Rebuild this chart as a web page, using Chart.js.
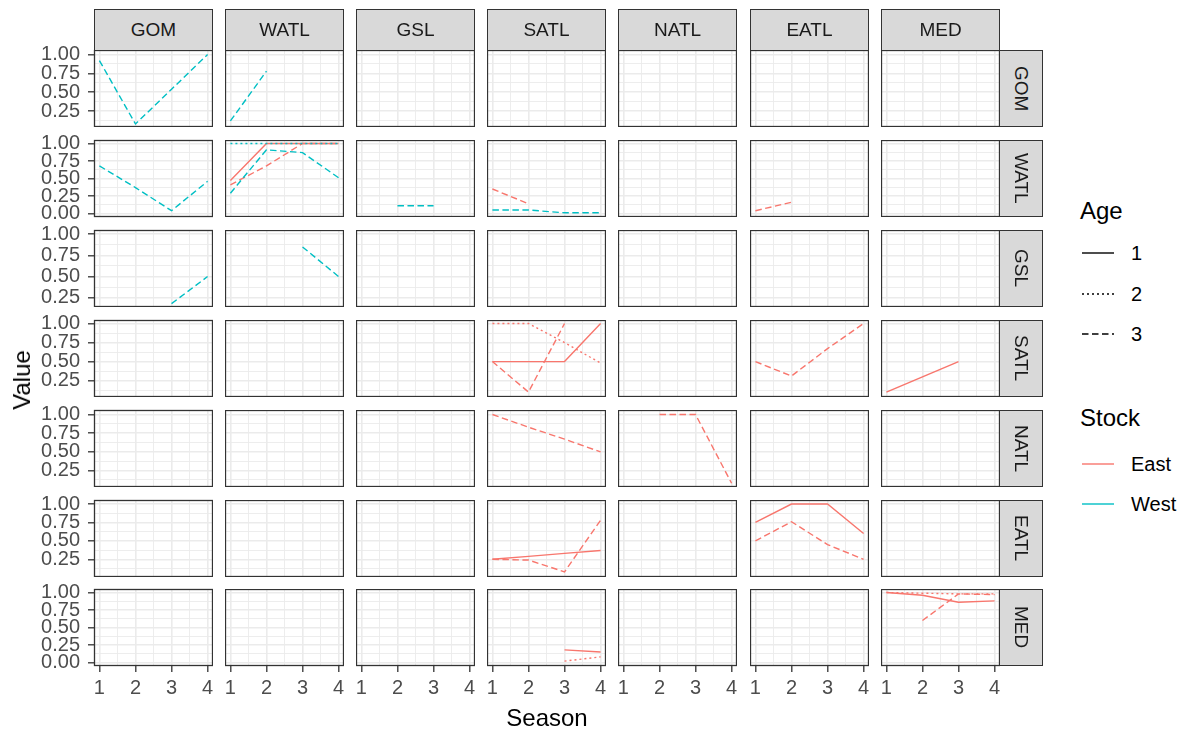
<!DOCTYPE html>
<html><head><meta charset="utf-8">
<script src="https://cdn.jsdelivr.net/npm/chart.js@4.4.1/dist/chart.umd.min.js"></script>
<style>
html,body{margin:0;padding:0;background:#fff;}
body{width:1191px;height:731px;overflow:hidden;position:relative;font-family:"Liberation Sans",Arial,sans-serif;}
canvas{position:absolute;display:block;}
.strip{position:absolute;background:#D9D9D9;border:1.3px solid #333;box-sizing:border-box;color:#1A1A1A;font-size:19px;display:flex;align-items:center;justify-content:center;}
.strip.r span{writing-mode:vertical-rl;}
.txt{position:absolute;white-space:nowrap;color:#000;}
</style></head><body>
<script>
// ---------- categories ----------
const areas = ['GOM','WATL','GSL','SATL','NATL','EATL','MED'];
const seasons = [1, 2, 3, 4];
const stocks = ['East', 'West'];
const ages = [1, 2, 3];
const xTickLabels = ['1', '2', '3', '4'];

// ---------- y-axis breaks (per facet row) ----------
const yBreaks_GOM  = [0.25, 0.50, 0.75, 1.00];
const yBreaks_WATL = [0.00, 0.25, 0.50, 0.75, 1.00];
const yBreaks_GSL  = [0.25, 0.50, 0.75, 1.00];
const yBreaks_SATL = [0.25, 0.50, 0.75, 1.00];
const yBreaks_NATL = [0.25, 0.50, 0.75, 1.00];
const yBreaks_EATL = [0.25, 0.50, 0.75, 1.00];
const yBreaks_MED  = [0.00, 0.25, 0.50, 0.75, 1.00];
const yMinorBreaks = [0.125, 0.375, 0.625, 0.875];

// ---------- series values (season 1..4; null = no value) ----------
// naming: <row area>_<column area>_<Stock>_<Age>
const GOM_GOM_West_3   = [0.92, 0.08, 0.54, 1.00];
const GOM_WATL_West_3  = [0.12, 0.78, null, null];
const WATL_GOM_West_3  = [0.68, 0.37, 0.04, 0.46];
const WATL_WATL_West_2 = [1.00, 1.00, 1.00, 1.00];
const WATL_WATL_West_3 = [0.29, 0.91, 0.87, 0.51];
const WATL_WATL_East_1 = [0.47, 1.00, 1.00, 1.00];
const WATL_WATL_East_3 = [0.41, 0.68, 1.00, 1.00];
const WATL_GSL_West_3  = [null, 0.11, 0.11, null];
const WATL_SATL_East_3 = [0.35, 0.14, null, null];
const WATL_SATL_West_3 = [0.05, 0.05, 0.01, 0.01];
const WATL_EATL_East_3 = [0.04, 0.16, null, null];
const GSL_GOM_West_3   = [null, null, 0.18, 0.50];
const GSL_WATL_West_3  = [null, null, 0.85, 0.50];
const SATL_SATL_East_1 = [0.50, 0.50, 0.50, 1.00];
const SATL_SATL_East_2 = [1.00, 1.00, 0.75, 0.48];
const SATL_SATL_East_3 = [0.50, 0.10, 1.00, null];
const SATL_EATL_East_3 = [0.50, 0.31, 0.67, 1.00];
const SATL_MED_East_1  = [0.10, 0.30, 0.50, null];
const NATL_SATL_East_3 = [1.00, 0.83, 0.67, 0.50];
const NATL_NATL_East_3 = [null, 1.00, 1.00, 0.08];
const EATL_SATL_East_1 = [0.25, 0.29, 0.33, 0.37];
const EATL_SATL_East_3 = [0.25, 0.24, 0.08, 0.78];
const EATL_EATL_East_1 = [0.75, 1.00, 1.00, 0.60];
const EATL_EATL_East_3 = [0.50, 0.76, 0.45, 0.25];
const MED_SATL_East_1  = [null, null, 0.18, 0.15];
const MED_SATL_East_2  = [null, null, 0.02, 0.08];
const MED_MED_East_1   = [1.00, 0.96, 0.86, 0.88];
const MED_MED_East_2   = [1.00, 0.99, 0.98, 0.98];
const MED_MED_East_3   = [null, 0.60, 0.98, 0.97];

const seriesList = [
  ['GOM','GOM','West',3, GOM_GOM_West_3],
  ['GOM','WATL','West',3, GOM_WATL_West_3],
  ['WATL','GOM','West',3, WATL_GOM_West_3],
  ['WATL','WATL','West',2, WATL_WATL_West_2],
  ['WATL','WATL','West',3, WATL_WATL_West_3],
  ['WATL','WATL','East',3, WATL_WATL_East_3],
  ['WATL','WATL','East',1, WATL_WATL_East_1],
  ['WATL','GSL','West',3, WATL_GSL_West_3],
  ['WATL','SATL','East',3, WATL_SATL_East_3],
  ['WATL','SATL','West',3, WATL_SATL_West_3],
  ['WATL','EATL','East',3, WATL_EATL_East_3],
  ['GSL','GOM','West',3, GSL_GOM_West_3],
  ['GSL','WATL','West',3, GSL_WATL_West_3],
  ['SATL','SATL','East',1, SATL_SATL_East_1],
  ['SATL','SATL','East',2, SATL_SATL_East_2],
  ['SATL','SATL','East',3, SATL_SATL_East_3],
  ['SATL','EATL','East',3, SATL_EATL_East_3],
  ['SATL','MED','East',1, SATL_MED_East_1],
  ['NATL','SATL','East',3, NATL_SATL_East_3],
  ['NATL','NATL','East',3, NATL_NATL_East_3],
  ['EATL','SATL','East',1, EATL_SATL_East_1],
  ['EATL','SATL','East',3, EATL_SATL_East_3],
  ['EATL','EATL','East',1, EATL_EATL_East_1],
  ['EATL','EATL','East',3, EATL_EATL_East_3],
  ['MED','SATL','East',1, MED_SATL_East_1],
  ['MED','SATL','East',2, MED_SATL_East_2],
  ['MED','MED','East',1, MED_MED_East_1],
  ['MED','MED','East',2, MED_MED_East_2],
  ['MED','MED','East',3, MED_MED_East_3]
];

// ---------- styling / layout ----------
const FONT = '"Liberation Sans", Arial, sans-serif';
const stockColor = {East:'#F8766D', West:'#00BFC4'};
const ageDash = {1:[], 2:[2,3], 3:[6.5,3.5]};
const yBreaksByRow = [yBreaks_GOM, yBreaks_WATL, yBreaks_GSL, yBreaks_SATL, yBreaks_NATL, yBreaks_EATL, yBreaks_MED];
const yRangeByRow = [[0.04,1.06],[-0.05,1.05],[0.14,1.05],[0.035,1.046],[0.03,1.06],[0.01,1.055],[-0.05,1.05]];
const xRange = [0.85, 4.15];
const colLeft = [94, 225, 356, 487, 618, 750, 881];
const rowTop = [50, 140, 230, 320, 410, 500, 589];
const PW = 119, PH = 77;

const borderPlugin = {
  id: 'panelBorder',
  afterDraw(chart) {
    const a = chart.chartArea, ctx = chart.ctx;
    ctx.save();
    ctx.strokeStyle = '#333333';
    ctx.lineWidth = 1.3;
    ctx.strokeRect(a.left + 0.5, a.top + 0.5, a.right - a.left - 1, a.bottom - a.top - 1);
    ctx.restore();
  }
};

function isInt(v){ return Math.abs(v - Math.round(v)) < 1e-9; }

function makePanel(r, c) {
  const major = yBreaksByRow[r];
  const padL = c === 0 ? colLeft[0] : 0;
  const padT = c === 0 ? 12 : 0;
  // room below only where the lowest label sits on the panel's bottom edge
  const padBot = (c === 0 && r < 6 && major[0] === 0) ? 12 : 0;
  const padB = r === 6 ? 45 : 0;
  const cv = document.createElement('canvas');
  const w = PW + padL, h = PH + padT + padBot + padB;
  cv.width = w; cv.height = h;
  cv.style.left = (colLeft[c] - padL) + 'px';
  cv.style.top = (rowTop[r] - padT) + 'px';
  cv.style.width = w + 'px'; cv.style.height = h + 'px';
  document.body.appendChild(cv);

  const rowName = areas[r], colName = areas[c];
  const [ymin, ymax] = yRangeByRow[r];
  const yTicks = major.concat(yMinorBreaks).filter(v => v >= ymin && v <= ymax).sort((a,b)=>a-b);
  const xTicks = [1, 1.5, 2, 2.5, 3, 3.5, 4];
  const isMajorY = v => major.some(m => Math.abs(m - v) < 1e-9);

  const datasets = seriesList.filter(s => s[0] === rowName && s[1] === colName).map(s => ({
    label: s[2] + ' ' + s[3],
    data: s[4].map((v, i) => ({x: seasons[i], y: v})),
    borderColor: stockColor[s[2]],
    borderWidth: 1.4,
    borderDash: ageDash[s[3]],
    borderCapStyle: 'butt',
    pointRadius: 0,
    tension: 0,
    fill: false,
    spanGaps: false
  }));

  const scales = {
    x: {
      type: 'linear', position: 'bottom', min: xRange[0], max: xRange[1],
      afterBuildTicks: s => { s.ticks = xTicks.map(v => ({value: v})); },
      afterFit: s => { s.height = padB + padBot; s.paddingLeft = 0; s.paddingRight = 0; },
      border: {display: false},
      grid: {
        color: '#EBEBEB',
        lineWidth: ctx => (ctx.tick && isInt(ctx.tick.value)) ? 1.6 : 0.9,
        drawTicks: r === 6, tickLength: 6, tickWidth: 1.3,
        tickColor: ctx => (ctx.tick && isInt(ctx.tick.value)) ? '#333333' : 'rgba(0,0,0,0)'
      },
      ticks: {
        display: r === 6, autoSkip: false, maxRotation: 0, minRotation: 0, padding: 4,
        color: '#4D4D4D', font: {family: FONT, size: 20},
        callback: v => isInt(v) ? xTickLabels[Math.round(v) - 1] : ''
      }
    },
    y: {
      type: 'linear', position: 'left', min: ymin, max: ymax,
      afterBuildTicks: s => { s.ticks = yTicks.map(v => ({value: v})); },
      afterFit: s => { s.width = padL; s.paddingTop = 0; s.paddingBottom = 0; },
      border: {display: false},
      grid: {
        color: '#EBEBEB',
        lineWidth: ctx => (ctx.tick && isMajorY(ctx.tick.value)) ? 1.6 : 0.9,
        drawTicks: c === 0, tickLength: 6, tickWidth: 1.3,
        tickColor: ctx => (ctx.tick && isMajorY(ctx.tick.value)) ? '#333333' : 'rgba(0,0,0,0)'
      },
      ticks: {
        display: c === 0, autoSkip: false, padding: 8,
        color: '#4D4D4D', font: {family: FONT, size: 20},
        callback: v => isMajorY(v) ? v.toFixed(2) : ''
      }
    }
  };
  if (padT > 0) {
    // spacer axis at the top, so the first y label has room
    scales.xTop = {
      type: 'linear', position: 'top', min: xRange[0], max: xRange[1], display: true,
      afterFit: s => { s.height = padT; s.paddingLeft = 0; s.paddingRight = 0; },
      border: {display: false}, grid: {display: false, drawTicks: false}, ticks: {display: false}
    };
  }

  new Chart(cv, {
    type: 'line',
    data: {datasets},
    options: {
      responsive: false, animation: false, maintainAspectRatio: false,
      devicePixelRatio: 1,
      layout: {padding: 0, autoPadding: false},
      plugins: {legend: {display: false}, tooltip: {enabled: false}},
      scales
    },
    plugins: [borderPlugin]
  });
}

for (let r = 0; r < 7; r++) for (let c = 0; c < 7; c++) makePanel(r, c);

// strips
function addDiv(cls, html, css) {
  const d = document.createElement('div');
  d.className = cls; d.innerHTML = html;
  Object.assign(d.style, css);
  document.body.appendChild(d);
  return d;
}
for (let c = 0; c < 7; c++) {
  addDiv('strip', areas[c], {left: colLeft[c] + 'px', top: '9px', width: PW + 'px', height: '42px'});
}
for (let r = 0; r < 7; r++) {
  addDiv('strip r', '<span>' + areas[r] + '</span>', {left: (colLeft[6] + PW - 1) + 'px', top: rowTop[r] + 'px', width: '44px', height: PH + 'px'});
}

// axis titles
addDiv('txt', 'Value', {left: '22px', top: '380px', fontSize: '24px', transform: 'translate(-50%,-50%) rotate(-90deg)'});
addDiv('txt', 'Season', {left: '547px', top: '718px', fontSize: '24px', transform: 'translate(-50%,-50%)'});

// legend
const legendX = 1080;
addDiv('txt', 'Age', {left: legendX + 'px', top: '211px', fontSize: '24px', transform: 'translateY(-50%)'});
const ageKeyY = [253, 294, 334];
ages.forEach((a, i) => {
  const dash = ageDash[a].length ? ageDash[a].join(',') : 'none';
  addDiv('txt', '<svg width="34" height="6"><line x1="0" y1="3" x2="32" y2="3" stroke="#000" stroke-width="1.4" stroke-dasharray="' + dash + '"/></svg>',
    {left: (legendX + 2) + 'px', top: (ageKeyY[i] - 3) + 'px', lineHeight: '0'});
  addDiv('txt', String(a), {left: '1131px', top: ageKeyY[i] + 'px', fontSize: '20px', transform: 'translateY(-50%)'});
});
addDiv('txt', 'Stock', {left: legendX + 'px', top: '418px', fontSize: '24px', transform: 'translateY(-50%)'});
const stockKeyY = [464, 504];
stocks.forEach((s, i) => {
  addDiv('txt', '<svg width="34" height="6"><line x1="0" y1="3" x2="32" y2="3" stroke="' + stockColor[s] + '" stroke-width="1.4"/></svg>',
    {left: (legendX + 2) + 'px', top: (stockKeyY[i] - 3) + 'px', lineHeight: '0'});
  addDiv('txt', s, {left: '1131px', top: stockKeyY[i] + 'px', fontSize: '20px', transform: 'translateY(-50%)'});
});
</script>
</body></html>
